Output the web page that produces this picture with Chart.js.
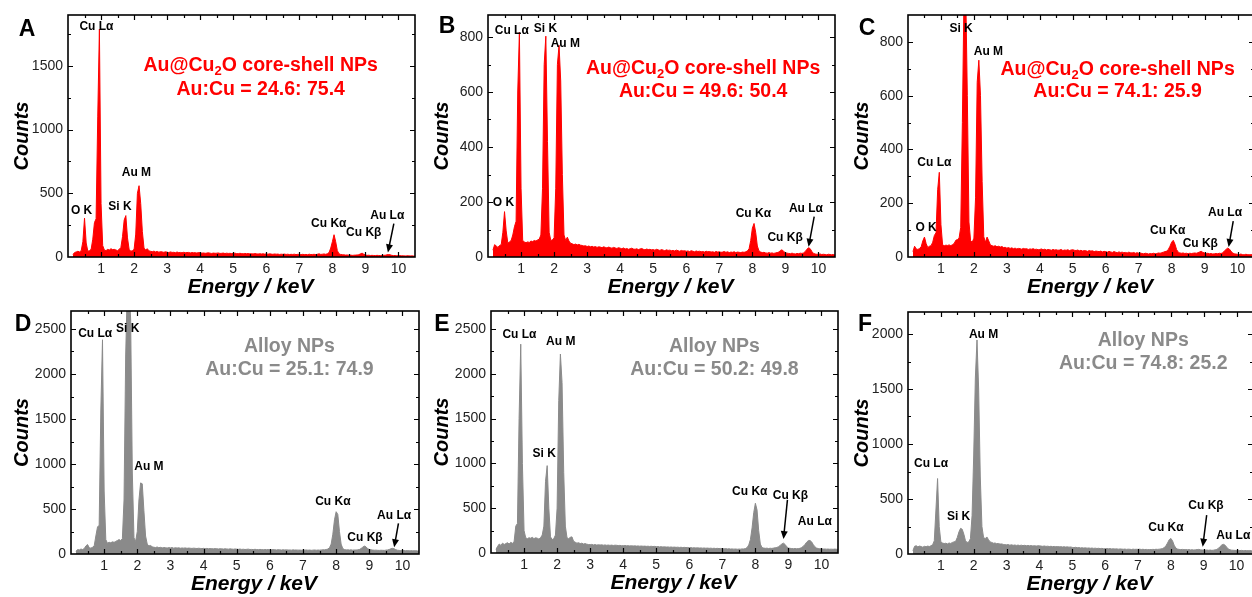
<!DOCTYPE html>
<html>
<head>
<meta charset="utf-8">
<script src="https://cdn.jsdelivr.net/npm/chart.js@4.4.1/dist/chart.umd.min.js"></script>
<style>
  body { margin: 0; background: #fff; width: 1252px; height: 597px; overflow: hidden; position: relative; }
  .panel { position: absolute; width: 420px; height: 300px; }
</style>
</head>
<body>
<div class="panel" style="left:0;top:0"><canvas id="chartA"></canvas></div>
<div class="panel" style="left:420px;top:0"><canvas id="chartB"></canvas></div>
<div class="panel" style="left:840px;top:0"><canvas id="chartC"></canvas></div>
<div class="panel" style="left:0;top:296px"><canvas id="chartD"></canvas></div>
<div class="panel" style="left:420px;top:296px"><canvas id="chartE"></canvas></div>
<div class="panel" style="left:840px;top:296px"><canvas id="chartF"></canvas></div>
<script>
// EDS channels: 0.15 keV onward, 0.05 keV per channel
const energyStart = 0.15;
const energyStep = 0.05;

// counts per channel, one row per keV (first row 0.15-0.95, last row 10.00-10.50)
const countsA = [
  20,35,40,45,40,50,120,305,110,45,50,60,140,270,300,1100,1790,
  420,90,55,50,60,55,65,58,60,55,50,60,75,160,290,325,150,60,45,50,
  60,180,500,560,420,200,70,55,65,48,45,42,46,40,44,38,42,40,37,41,
  38,35,40,36,37,34,39,35,36,33,37,34,35,36,32,35,33,34,31,35,
  33,30,32,29,31,33,30,28,31,29,30,32,28,29,31,27,30,28,29,27,
  28,30,27,26,29,27,25,28,26,27,25,26,24,27,25,23,26,24,25,23,
  24,22,25,23,21,24,22,23,20,22,21,23,20,22,19,21,20,22,19,21,
  20,18,21,19,20,18,22,19,20,21,19,22,25,20,22,24,21,26,35,70,
  120,175,120,50,25,20,18,17,15,16,14,15,13,14,15,16,18,25,30,22,
  15,13,14,12,13,12,11,13,12,11,12,13,14,17,19,17,13,11,12,10,
  10,11,9,10,8,9,10,8,9,8,7
];
const countsB = [
  25,45,40,35,42,45,90,165,95,50,55,60,80,110,130,600,818,
  250,60,55,52,55,53,58,56,60,58,62,65,80,250,700,803,420,90,60,62,
  70,250,700,770,640,300,80,60,72,58,50,48,45,47,44,46,43,42,40,41,
  38,40,37,39,36,38,35,37,36,34,37,35,33,36,34,32,35,33,31,34,
  32,30,33,29,31,28,30,32,29,28,30,27,29,31,28,26,29,27,28,26,
  27,25,28,26,24,27,25,23,26,24,25,23,24,22,25,23,21,24,22,23,
  21,22,20,23,21,19,22,20,21,19,20,18,21,19,20,18,19,17,20,18,
  19,17,18,20,17,19,16,18,17,19,16,18,17,16,18,17,19,22,30,60,
  105,122,90,40,22,18,16,17,15,14,16,14,15,13,15,16,18,24,26,20,
  15,14,13,12,14,12,11,13,12,14,13,15,20,28,34,30,20,13,11,10,
  10,11,9,10,9,8,10,9,8,9,7
];
const countsC = [
  20,40,30,28,32,38,60,74,50,35,40,42,55,80,90,250,315,
  120,45,42,44,43,45,42,46,50,62,65,70,110,500,980,1000,600,130,60,55,
  70,220,650,732,600,280,75,55,74,60,45,42,40,42,38,40,37,39,35,36,
  33,35,32,34,31,33,30,32,31,29,32,30,31,28,30,29,31,28,29,27,
  28,30,27,29,26,28,27,25,28,26,27,25,26,28,24,26,25,27,24,26,
  27,25,24,26,23,25,22,24,23,21,24,22,23,20,22,21,20,22,19,21,
  20,18,21,19,17,20,18,16,19,17,18,16,17,15,18,16,15,17,14,16,
  14,15,13,12,14,13,11,13,12,14,12,13,15,14,16,18,20,22,28,40,
  55,62,48,28,18,15,14,15,13,14,12,14,13,14,15,14,16,19,21,17,
  15,13,14,12,13,11,12,13,12,14,13,16,22,28,33,30,22,15,12,11,
  10,9,11,9,8,10,9,8,9,8,7
];
const countsD = [
  30,50,45,55,50,60,90,105,70,65,75,90,200,300,320,1600,2380,
  700,160,120,130,125,135,130,140,150,160,150,170,600,2200,3000,3000,2600,900,180,140,
  250,600,790,780,480,200,110,90,95,80,75,72,78,70,74,68,72,70,66,71,
  68,72,65,70,66,69,64,67,65,68,63,66,64,62,65,63,61,64,62,60,
  63,60,62,58,61,59,57,60,58,56,59,57,55,58,56,54,57,55,53,56,
  54,52,55,51,53,50,52,54,50,51,49,52,50,48,51,49,47,50,48,49,
  48,46,49,47,45,48,46,44,47,45,46,44,45,43,46,44,45,43,44,42,
  44,43,45,42,44,41,43,45,42,44,43,45,47,46,50,55,70,110,220,380,
  470,440,250,110,60,50,45,47,44,46,43,45,44,46,50,60,75,88,80,60,
  50,46,44,42,43,41,40,42,41,40,43,45,50,58,63,58,48,42,40,38,
  37,39,36,38,35,37,36,35,37,34,36
];
const countsE = [
  40,75,100,85,110,95,105,115,100,120,105,130,300,330,1500,2330,1000,
  250,170,160,170,165,175,160,170,165,155,170,200,300,800,975,500,180,150,160,200,
  500,1700,2220,1900,900,300,170,160,175,180,130,120,110,115,105,110,100,105,98,95,
  93,96,90,94,88,92,89,91,87,90,86,89,85,88,84,87,86,83,85,82,
  81,84,80,82,79,81,78,80,77,79,76,78,75,77,74,76,73,75,72,74,
  70,72,68,71,67,69,66,68,65,67,64,66,63,65,62,64,61,63,60,62,
  58,60,57,59,56,58,55,57,54,56,53,55,52,54,51,53,50,52,49,51,
  48,46,49,45,47,44,46,43,45,42,44,43,46,45,50,60,90,150,280,450,
  555,480,250,100,60,55,52,54,50,53,51,55,58,62,70,85,100,110,95,70,
  55,52,50,48,50,47,49,52,60,75,95,120,138,140,125,95,70,55,50,47,
  46,44,45,43,44,42,43,41,44,42,40
];
const countsF = [
  30,70,75,65,72,68,62,70,66,72,68,75,85,120,400,686,250,
  110,100,95,98,92,100,96,105,110,115,150,200,233,225,180,120,105,110,140,350,
  900,1600,1946,1500,700,250,150,140,155,130,110,105,98,100,94,96,90,92,87,85,
  83,86,80,84,79,82,78,81,77,80,76,79,75,78,74,77,73,76,72,75,
  74,72,70,73,69,71,68,70,67,69,66,68,65,67,64,66,63,65,62,64,
  60,58,61,57,59,55,57,54,56,53,55,52,54,51,53,50,52,49,51,48,
  48,50,47,49,46,48,45,47,44,46,45,43,45,42,44,43,41,44,42,43,
  42,44,41,43,40,42,39,41,40,42,41,43,42,44,46,50,58,75,100,130,
  142,120,80,55,45,42,40,42,39,41,38,40,37,39,36,38,40,42,38,36,
  37,35,36,34,36,33,35,38,42,52,68,82,88,80,62,45,38,35,34,33,
  32,34,31,33,30,32,31,30,32,29,31
];

// tick labels
const energyTicks = [1, 2, 3, 4, 5, 6, 7, 8, 9, 10];
const countTicks500 = [0, 500, 1000, 1500];
const countTicks200 = [0, 200, 400, 600, 800];
const countTicksAlloyLow = [0, 500, 1000, 1500, 2000, 2500];
const countTicksAlloyHigh = [0, 500, 1000, 1500, 2000];

// Au:Cu atomic ratios
const ratios = ['24.6: 75.4', '49.6: 50.4', '74.1: 25.9', '25.1: 74.9', '50.2: 49.8', '74.8: 25.2'];

// peak labels: [text, energy, counts]
const peaksA = [['Cu Lα', 0.86, 1809], ['O K', 0.41, 364], ['Si K', 1.57, 398], ['Au M', 2.07, 661], ['Cu Kα', 7.89, 262], ['Cu Kβ', 8.95, 189], ['Au Lα', 9.66, 325]];
const peaksB = [['Cu Lα', 0.72, 822], ['Si K', 1.74, 830], ['Au M', 2.34, 776], ['O K', 0.47, 199], ['Cu Kα', 8.03, 159], ['Cu Kβ', 8.99, 71], ['Au Lα', 9.62, 175]];
const peaksC = [['Si K', 1.61, 848], ['Au M', 2.44, 765], ['Cu Lα', 0.80, 352], ['O K', 0.55, 110], ['Cu Kα', 7.88, 98], ['Cu Kβ', 8.87, 50], ['Au Lα', 9.62, 164]];
const peaksD = [['Cu Lα', 0.73, 2444], ['Si K', 1.71, 2500], ['Au M', 2.35, 975], ['Cu Kα', 7.90, 576], ['Cu Kβ', 8.87, 177], ['Au Lα', 9.75, 425]];
const peaksE = [['Cu Lα', 0.86, 2437], ['Au M', 2.11, 2363], ['Si K', 1.61, 1104], ['Cu Kα', 7.83, 681], ['Cu Kβ', 9.06, 637], ['Au Lα', 9.80, 352]];
const peaksF = [['Au M', 2.30, 1994], ['Cu Lα', 0.70, 822], ['Si K', 1.54, 338], ['Cu Kα', 7.85, 242], ['Cu Kβ', 9.07, 438], ['Au Lα', 9.90, 166]];

const FONT = '"Liberation Sans", Arial, Helvetica, sans-serif';
const RED = '#ff0000';
const GREY = '#8a8a8a';
const coreShell = [['Au@Cu', false], ['2', true], ['O core-shell NPs', false]];
const alloy = [['Alloy NPs', false]];

function drawRich(ctx, parts, cx, cy, size, color) {
  const main = `bold ${size}px ${FONT}`;
  const sub = `bold ${Math.round(size * 0.68)}px ${FONT}`;
  let w = 0;
  parts.forEach(([t, s]) => { ctx.font = s ? sub : main; w += ctx.measureText(t).width; });
  let x = cx - w / 2;
  ctx.fillStyle = color;
  ctx.textAlign = 'left';
  ctx.textBaseline = 'middle';
  parts.forEach(([t, s]) => {
    ctx.font = s ? sub : main;
    ctx.fillText(t, x, s ? cy + size * 0.3 : cy);
    x += ctx.measureText(t).width;
  });
}

function drawArrow(ctx, x1, y1, x2, y2) {
  const ang = Math.atan2(y2 - y1, x2 - x1);
  ctx.strokeStyle = '#000';
  ctx.fillStyle = '#000';
  ctx.lineWidth = 1.5;
  ctx.beginPath();
  ctx.moveTo(x1, y1);
  ctx.lineTo(x2 - 5 * Math.cos(ang), y2 - 5 * Math.sin(ang));
  ctx.stroke();
  ctx.beginPath();
  ctx.moveTo(x2, y2);
  ctx.lineTo(x2 - 8 * Math.cos(ang) + 3.5 * Math.sin(ang), y2 - 8 * Math.sin(ang) - 3.5 * Math.cos(ang));
  ctx.lineTo(x2 - 8 * Math.cos(ang) - 3.5 * Math.sin(ang), y2 - 8 * Math.sin(ang) + 3.5 * Math.cos(ang));
  ctx.closePath();
  ctx.fill();
}

function makePanel(p) {
  const energies = p.counts.map((_, i) => Math.round((energyStart + i * energyStep) * 100) / 100);
  const [left, top, right, bottom] = p.box;

  const decor = {
    id: 'decor',
    afterDatasetsDraw(chart) {
      const { ctx, chartArea: a, scales: { x, y } } = chart;
      ctx.save();
      ctx.strokeStyle = '#000';
      ctx.lineWidth = 1.2;
      ctx.beginPath();
      for (let v = 0.5; v < x.max; v += 0.5) {
        const px = Math.round(x.getPixelForValue(v)) + 0.5;
        const len = Number.isInteger(v) ? 5 : 3;
        ctx.moveTo(px, a.bottom); ctx.lineTo(px, a.bottom - len);
        ctx.moveTo(px, a.top); ctx.lineTo(px, a.top + len);
      }
      const half = p.yStep / 2;
      for (let v = half; v < y.max; v += half) {
        const py = Math.round(y.getPixelForValue(v)) + 0.5;
        const len = v % p.yStep === 0 ? 5 : 3;
        ctx.moveTo(a.left, py); ctx.lineTo(a.left + len, py);
        ctx.moveTo(a.right, py); ctx.lineTo(a.right - len, py);
      }
      ctx.stroke();
      ctx.lineWidth = 1.6;
      ctx.strokeRect(a.left, a.top, a.right - a.left, a.bottom - a.top);
      ctx.restore();
    },
    afterDraw(chart) {
      const { ctx, chartArea: a, scales: { x, y } } = chart;
      ctx.save();
      // peak labels
      ctx.fillStyle = '#000';
      ctx.font = `bold 12px ${FONT}`;
      ctx.textAlign = 'center';
      ctx.textBaseline = 'middle';
      p.peaks.forEach(([t, e, c]) => ctx.fillText(t, x.getPixelForValue(e), y.getPixelForValue(c)));
      const [ax1, ay1, ax2, ay2] = p.arrow;
      drawArrow(ctx, x.getPixelForValue(ax1), y.getPixelForValue(ay1), x.getPixelForValue(ax2), y.getPixelForValue(ay2));
      // sample caption
      const [ce, c1, c2] = p.captionAt;
      drawRich(ctx, p.caption, x.getPixelForValue(ce), y.getPixelForValue(c1), 19.5, p.color);
      drawRich(ctx, [['Au:Cu = ' + p.ratio, false]], x.getPixelForValue(ce), y.getPixelForValue(c2), 19.5, p.color);
      // axis titles
      ctx.fillStyle = '#000';
      ctx.font = `italic bold 21px ${FONT}`;
      ctx.textAlign = 'center';
      ctx.textBaseline = 'middle';
      ctx.fillText('Energy / keV', (a.left + a.right) / 2 + 9, a.bottom + 30);
      ctx.save();
      ctx.translate(22, (a.top + a.bottom) / 2);
      ctx.rotate(-Math.PI / 2);
      ctx.font = `italic bold 20px ${FONT}`;
      ctx.fillText('Counts', 0, 0);
      ctx.restore();
      // panel letter
      ctx.font = `bold 23px ${FONT}`;
      ctx.fillText(p.id, p.letterAt[0], p.letterAt[1]);
      ctx.restore();
    }
  };

  const tickFont = { family: FONT, size: 14 };
  new Chart(document.getElementById('chart' + p.id), {
    type: 'line',
    data: {
      datasets: [{
        data: energies.map((e, i) => ({ x: e, y: p.counts[i] })),
        borderColor: p.color,
        backgroundColor: p.color,
        borderWidth: 1,
        fill: 'origin',
        pointRadius: 0,
        tension: 0
      }]
    },
    options: {
      responsive: true,
      maintainAspectRatio: false,
      animation: false,
      events: [],
      layout: { padding: { top: top, right: 420 - right, left: 0, bottom: 0 } },
      plugins: { legend: { display: false }, tooltip: { enabled: false } },
      scales: {
        x: {
          type: 'linear',
          min: 0,
          max: 10.5,
          grid: { display: false, drawTicks: false },
          border: { display: false },
          afterBuildTicks: s => { s.ticks = energyTicks.map(v => ({ value: v })); },
          ticks: { autoSkip: false, maxRotation: 0, padding: 4, color: '#222', font: tickFont, callback: v => String(v) },
          afterFit: s => { s.height = 300 - bottom; }
        },
        y: {
          min: 0,
          max: p.yMax,
          grid: { display: false, drawTicks: false },
          border: { display: false },
          afterBuildTicks: s => { s.ticks = p.yTicks.map(v => ({ value: v })); },
          ticks: { autoSkip: false, padding: 5, color: '#222', font: tickFont, callback: v => String(v) },
          afterFit: s => { s.width = left; }
        }
      }
    },
    plugins: [decor]
  });
}

[
  { id: 'A', counts: countsA, color: RED, yMax: 1900, yStep: 500, yTicks: countTicks500, box: [68, 15, 415, 257], peaks: peaksA, arrow: [9.86, 262, 9.68, 36], caption: coreShell, ratio: ratios[0], captionAt: [5.83, 1500, 1311], letterAt: [27, 30] },
  { id: 'B', counts: countsB, color: RED, yMax: 880, yStep: 200, yTicks: countTicks200, box: [68, 15, 415, 257], peaks: peaksB, arrow: [9.87, 147, 9.70, 37], caption: coreShell, ratio: ratios[1], captionAt: [6.51, 684, 602], letterAt: [27, 27] },
  { id: 'C', counts: countsC, color: RED, yMax: 900, yStep: 200, yTicks: countTicks200, box: [68, 15, 414, 257], peaks: peaksC, arrow: [9.87, 133, 9.73, 37], caption: coreShell, ratio: ratios[2], captionAt: [6.36, 697, 614], letterAt: [27, 29] },
  { id: 'D', counts: countsD, color: GREY, yMax: 2700, yStep: 500, yTicks: countTicksAlloyLow, box: [71, 15, 419, 258], peaks: peaksD, arrow: [9.88, 340, 9.75, 74], caption: alloy, ratio: ratios[3], captionAt: [6.59, 2308, 2049], letterAt: [23, 29] },
  { id: 'E', counts: countsE, color: GREY, yMax: 2700, yStep: 500, yTicks: countTicksAlloyLow, box: [71, 15, 418, 257], peaks: peaksE, arrow: [8.97, 593, 8.85, 156], caption: alloy, ratio: ratios[4], captionAt: [6.76, 2307, 2048], letterAt: [22, 29] },
  { id: 'F', counts: countsF, color: GREY, yMax: 2200, yStep: 500, yTicks: countTicksAlloyHigh, box: [68, 16, 413, 258], peaks: peaksF, arrow: [9.09, 353, 8.97, 66], caption: alloy, ratio: ratios[5], captionAt: [7.16, 1940, 1728], letterAt: [25, 29] }
].forEach(makePanel);
</script>
</body>
</html>
